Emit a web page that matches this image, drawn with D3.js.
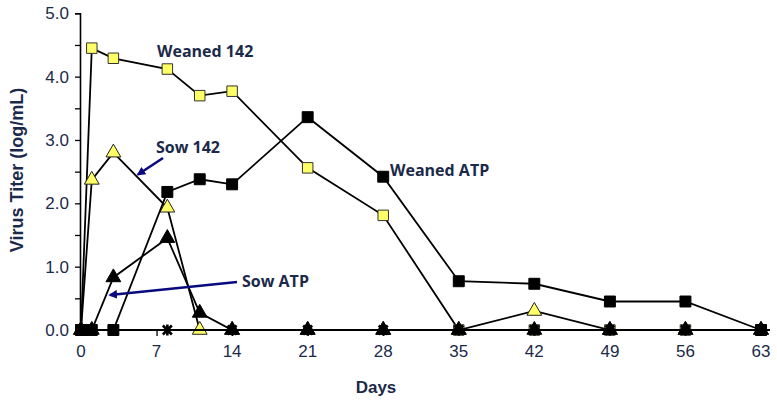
<!DOCTYPE html>
<html>
<head>
<meta charset="utf-8">
<script src="https://cdn.jsdelivr.net/npm/d3@7"></script>
<style>
  html, body { margin: 0; padding: 0; background: #fff; }
  svg { display: block; }
</style>
</head>
<body>
<svg id="chart" width="777" height="402"></svg>
<script>
// Sampling days and titers (log/mL) for each group
const days = [0, 1, 3, 8, 11, 14, 21, 28, 35, 42, 49, 56, 63];
const weaned142 = [0, 4.45, 4.29, 4.12, 3.70, 3.77, 2.56, 1.81, 0, 0, 0, 0, 0];
const sow142 = [0, 2.37, 2.80, 1.93, 0, 0, 0, 0, 0, 0.30, 0, 0, 0];
const weanedATP = [0, 0, 0, 2.18, 2.38, 2.30, 3.36, 2.42, 0.77, 0.73, 0.45, 0.45, 0];
const sowATP = [0, 0, 0.83, 1.45, 0.27, 0, 0, 0, 0, 0, 0, 0, 0];
const controlDays = [0, 8, 14, 21, 28, 35, 42, 49, 56, 63];
const control = [0, 0, 0, 0, 0, 0, 0, 0, 0, 0];

const xTicks = [0, 7, 14, 21, 28, 35, 42, 49, 56, 63];
const yLabelTicks = [0, 1, 2, 3, 4, 5];
const yMinorTicks = [0, 0.5, 1, 1.5, 2, 2.5, 3, 3.5, 4, 4.5, 5];

const navy = "#1b2a4a";
const svg = d3.select("#chart");

const x = d3.scaleLinear().domain([0, 63]).range([81, 761]);
const y = d3.scaleLinear().domain([0, 5]).range([330, 13.3]);

// Y axis: tick marks every 0.5, labels every 1.0
const yAxis = svg.append("g").attr("transform", "translate(80,0)")
  .call(d3.axisLeft(y).tickValues(yMinorTicks).tickSize(5).tickFormat(""));
yAxis.select(".domain").attr("stroke", "#000").attr("stroke-width", 1.6);
yAxis.selectAll(".tick line").attr("stroke", "#000").attr("stroke-width", 1.3);

svg.append("g").selectAll("text").data(yLabelTicks).join("text")
  .attr("x", 69).attr("y", d => y(d) + 6)
  .attr("text-anchor", "end")
  .attr("font-family", "Liberation Sans, Arial, sans-serif")
  .attr("font-size", 17).attr("fill", navy)
  .text(d => d.toFixed(1));

// X axis
const xAxis = svg.append("g").attr("transform", "translate(0,330)")
  .call(d3.axisBottom(x).tickValues(xTicks).tickSize(6).tickFormat(""));
xAxis.select(".domain").remove();
xAxis.selectAll(".tick line").attr("stroke", "#000").attr("stroke-width", 1.3);
svg.append("line").attr("x1", 80).attr("x2", 770).attr("y1", 330).attr("y2", 330)
  .attr("stroke", "#000").attr("stroke-width", 2.2);

svg.append("g").selectAll("text").data(xTicks).join("text")
  .attr("x", d => x(d)).attr("y", 357)
  .attr("text-anchor", "middle")
  .attr("font-family", "Liberation Sans, Arial, sans-serif")
  .attr("font-size", 17).attr("fill", navy)
  .text(d => d);

// Axis titles
svg.append("text")
  .attr("transform", "translate(23,170) rotate(-90)")
  .attr("text-anchor", "middle")
  .attr("font-family", "Liberation Sans, Arial, sans-serif")
  .attr("font-weight", "bold").attr("font-size", 18).attr("fill", navy)
  .text("Virus Titer (log/mL)");
svg.append("text")
  .attr("x", 376).attr("y", 393)
  .attr("text-anchor", "middle")
  .attr("font-family", "Liberation Sans, Arial, sans-serif")
  .attr("font-weight", "bold").attr("font-size", 17).attr("fill", navy)
  .text("Days");

// Series
const line = d3.line().x(d => x(d[0])).y(d => y(d[1]));
const sq = d3.symbol().type(d3.symbolSquare);
const tri = d3.symbol().type(d3.symbolTriangle);

function drawSeries(xs, ys, shape, size, fill, stroke) {
  const pts = xs.map((d, i) => [d, ys[i]]);
  const g = svg.append("g");
  g.append("path").datum(pts).attr("d", line)
    .attr("fill", "none").attr("stroke", "#000").attr("stroke-width", 1.8);
  g.selectAll("path.m").data(pts).join("path").attr("class", "m")
    .attr("transform", d => `translate(${x(d[0])},${y(d[1])})`)
    .attr("d", shape.size(size)())
    .attr("fill", fill).attr("stroke", stroke).attr("stroke-width", 1);
}

drawSeries(days, weaned142, sq, 110, "#ffff66", "#333");
drawSeries(days, sow142, tri, 95, "#ffff66", "#222");
drawSeries(days, weanedATP, sq, 120, "#000", "#000");
drawSeries(days, sowATP, tri, 95, "#000", "#000");

// Control group: asterisk markers, all zero
const ctrl = controlDays.map((d, i) => [d, control[i]]);
const ctrlG = svg.append("g");
ctrlG.append("path").datum(ctrl).attr("d", line)
  .attr("fill", "none").attr("stroke", "#000").attr("stroke-width", 1.8);
const star = "M-4.5,-4.5L4.5,4.5M-4.5,4.5L4.5,-4.5M0,-5.5L0,5.5";
ctrlG.selectAll("path.m").data(ctrl).join("path").attr("class", "m")
  .attr("transform", d => `translate(${x(d[0])},${y(d[1])})`)
  .attr("d", star).attr("stroke", "#000").attr("stroke-width", 2.6).attr("fill", "none");

// Labels and arrows
const labelFont = "Open Sans, Lato, sans-serif";
function label(tx, ty, t) {
  svg.append("text").attr("x", tx).attr("y", ty)
    .attr("font-family", labelFont).attr("font-weight", "bold")
    .attr("font-size", 16).attr("fill", navy).text(t);
}
label(157, 57, "Weaned 142");
label(156, 153, "Sow 142");
label(390, 176, "Weaned ATP");
label(242, 287, "Sow ATP");

svg.append("defs").append("marker")
  .attr("id", "ah").attr("viewBox", "0 0 10 10")
  .attr("refX", 8).attr("refY", 5)
  .attr("markerWidth", 3.4).attr("markerHeight", 3.4)
  .attr("orient", "auto")
  .append("path").attr("d", "M0,0L10,5L0,10z").attr("fill", "#0a0a80");

svg.append("line").attr("x1", 163).attr("y1", 158).attr("x2", 138).attr("y2", 174.5)
  .attr("stroke", "#0a0a80").attr("stroke-width", 2.6).attr("marker-end", "url(#ah)");
svg.append("line").attr("x1", 237).attr("y1", 282).attr("x2", 110).attr("y2", 295)
  .attr("stroke", "#0a0a80").attr("stroke-width", 2.6).attr("marker-end", "url(#ah)");
</script>
</body>
</html>
